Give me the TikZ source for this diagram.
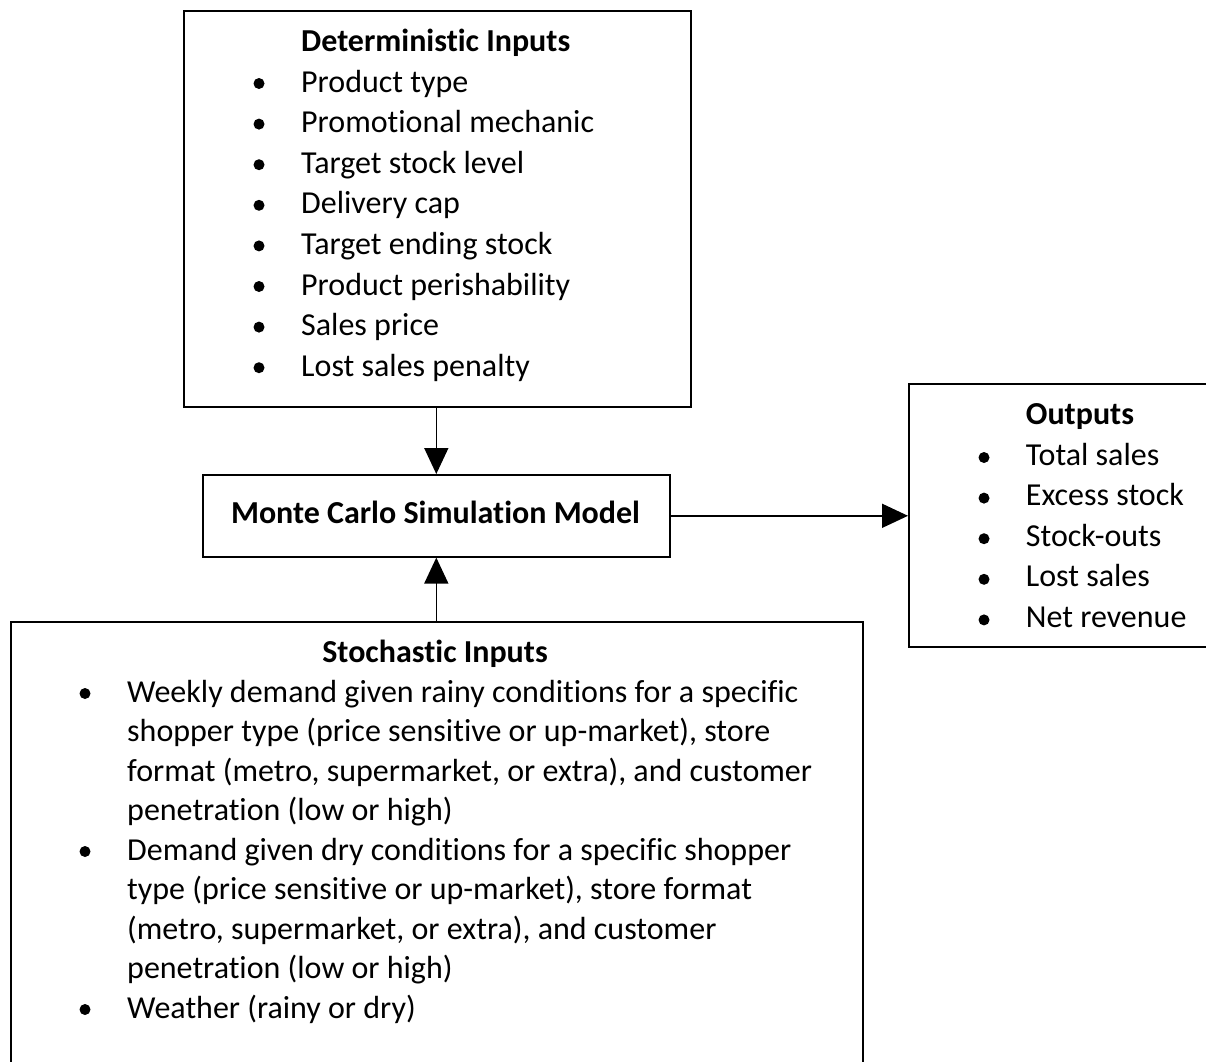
\documentclass[tikz,border=0pt]{standalone}
\usepackage{fontspec}
\setmainfont{Carlito}[Ligatures=CommonOff]
\usetikzlibrary{arrows.meta}
\begin{document}
\begin{tikzpicture}[x=1pt,y=-1pt,
  box/.style={draw, line width=1.6pt, inner sep=0pt, anchor=north west},
  txt/.style={anchor=base west, inner sep=0pt, font=\fontsize{32}{40}\selectfont},
  ttl/.style={anchor=base west, inner sep=0pt, font=\fontsize{32}{40}\selectfont\bfseries},
  bul/.style={fill, circle, inner sep=0pt, minimum size=11pt},
  conn/.style={line width=1.6pt, -{Triangle[length=26pt,width=24pt]}}]
\useasboundingbox (0,0) rectangle (1206,1061);
\clip (0,0) rectangle (1206,1061);
% boxes
\node[box, minimum width=507pt, minimum height=396pt] (det) at (183,10) {};
\node[box, minimum width=467pt, minimum height=82pt] (mc) at (202,474) {};
\node[box, minimum width=330pt, minimum height=263pt] (out) at (908,383) {};
\node[box, minimum width=852pt, minimum height=500pt] (sto) at (10,621) {};
% connectors
\draw[conn] (det.south -| mc.north) -- (mc.north);
\draw[conn] (sto.north -| mc.south) -- (mc.south);
\draw[conn] (mc.east) -- (out.west |- mc.east);
% Monte Carlo text
\node[anchor=base, inner sep=0pt, font=\fontsize{32}{40}\selectfont\bfseries] (mct) at (435.5,523) {Monte Carlo Simulation Model};
% deterministic inputs
\node[ttl] (dt) at (301,51) {Deterministic Inputs};
\foreach \t [count=\i from 0] in {Product type, Promotional mechanic, Target stock level, Delivery cap, Target ending stock, Product perishability, Sales price, Lost sales penalty} {
  \node[txt] (d\i) at (301,92+\i*40.6) {\t};
  \node[bul] (db\i) at (259,83.5+\i*40.6) {};
}
% outputs
\node[ttl] (ot) at (1025.7,424) {Outputs};
\foreach \t [count=\i from 0] in {Total sales, Excess stock, Stock-outs, Lost sales, Net revenue} {
  \node[txt] (o\i) at (1025.7,465+\i*40.6) {\t};
  \node[bul] (ob\i) at (984,457.5+\i*40.6) {};
}
% stochastic inputs
\node[anchor=base, inner sep=0pt, font=\fontsize{32}{40}\selectfont\bfseries] (st) at (435,662) {Stochastic Inputs};
\foreach \t [count=\i from 0] in {
  Weekly demand given rainy conditions for a specific,
  {shopper type (price sensitive or up-market), store},
  {format (metro, supermarket, or extra), and customer},
  penetration (low or high),
  Demand given dry conditions for a specific shopper,
  {type (price sensitive or up-market), store format},
  {(metro, supermarket, or extra), and customer},
  penetration (low or high),
  Weather (rainy or dry)} {
  \node[txt] (s\i) at (127,702+\i*39.5) {\t};
}
\node[bul] (sb0) at (85,693.5) {};
\node[bul] (sb1) at (85,693.5+4*39.5) {};
\node[bul] (sb2) at (85,693.5+8*39.5) {};
\end{tikzpicture}
\end{document}
